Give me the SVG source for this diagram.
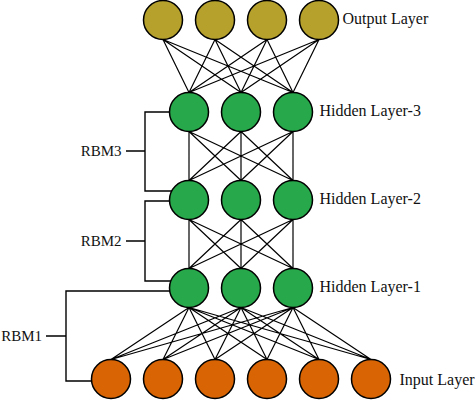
<svg xmlns="http://www.w3.org/2000/svg" width="475" height="402" viewBox="0 0 475 402">
<style>
.c{stroke:#000;stroke-width:1.2;fill:none}
.b{stroke:#000;stroke-width:1.4;fill:none}
.out{fill:#B5A12B;stroke:#000;stroke-width:1.5}
.hid{fill:#27A84A;stroke:#000;stroke-width:1.5}
.inp{fill:#D86404;stroke:#000;stroke-width:1.5}
text{font-family:"Liberation Serif","Times New Roman",serif;fill:#111}
.lab{font-size:16px}
.rbm{font-size:15px;text-anchor:end}
</style>
<rect width="475" height="402" fill="#fff"/>
<g id="connectors">
<path class="c" d="M163,39.5L189,92.5M163,39.5L241,92.5M163,39.5L293,92.5M215,39.5L189,92.5M215,39.5L241,92.5M215,39.5L293,92.5M267,39.5L189,92.5M267,39.5L241,92.5M267,39.5L293,92.5M319,39.5L189,92.5M319,39.5L241,92.5M319,39.5L293,92.5"/>
<path class="c" d="M189,131.5L189,180.5M189,131.5L241,180.5M189,131.5L293,180.5M241,131.5L189,180.5M241,131.5L241,180.5M241,131.5L293,180.5M293,131.5L189,180.5M293,131.5L241,180.5M293,131.5L293,180.5"/>
<path class="c" d="M189,219.5L189,268.5M189,219.5L241,268.5M189,219.5L293,268.5M241,219.5L189,268.5M241,219.5L241,268.5M241,219.5L293,268.5M293,219.5L189,268.5M293,219.5L241,268.5M293,219.5L293,268.5"/>
<path class="c" d="M189,307.5L111,359.5M189,307.5L163,359.5M189,307.5L215,359.5M189,307.5L267,359.5M189,307.5L319,359.5M189,307.5L371,359.5M241,307.5L111,359.5M241,307.5L163,359.5M241,307.5L215,359.5M241,307.5L267,359.5M241,307.5L319,359.5M241,307.5L371,359.5M293,307.5L111,359.5M293,307.5L163,359.5M293,307.5L215,359.5M293,307.5L267,359.5M293,307.5L319,359.5M293,307.5L371,359.5"/>
<path class="b" d="M180,112H145V191H180M126,151H145"/>
<path class="b" d="M180,201H145V281H180M126,241H145"/>
<path class="b" d="M180,291H66V381H100M46,336H66"/>
</g>
<g id="output-layer">
<circle class="out" cx="163" cy="20" r="19.5"/>
<circle class="out" cx="215" cy="20" r="19.5"/>
<circle class="out" cx="267" cy="20" r="19.5"/>
<circle class="out" cx="319" cy="20" r="19.5"/>
<text class="lab" x="342.5" y="24">Output Layer</text>
</g>
<g id="hidden-layer-3">
<circle class="hid" cx="189" cy="112" r="19.5"/>
<circle class="hid" cx="241" cy="112" r="19.5"/>
<circle class="hid" cx="293" cy="112" r="19.5"/>
<text class="lab" x="319.5" y="116">Hidden Layer-3</text>
</g>
<g id="hidden-layer-2">
<circle class="hid" cx="189" cy="200" r="19.5"/>
<circle class="hid" cx="241" cy="200" r="19.5"/>
<circle class="hid" cx="293" cy="200" r="19.5"/>
<text class="lab" x="319.5" y="204">Hidden Layer-2</text>
</g>
<g id="hidden-layer-1">
<circle class="hid" cx="189" cy="288" r="19.5"/>
<circle class="hid" cx="241" cy="288" r="19.5"/>
<circle class="hid" cx="293" cy="288" r="19.5"/>
<text class="lab" x="319.5" y="292">Hidden Layer-1</text>
</g>
<g id="input-layer">
<circle class="inp" cx="111" cy="379" r="19.5"/>
<circle class="inp" cx="163" cy="379" r="19.5"/>
<circle class="inp" cx="215" cy="379" r="19.5"/>
<circle class="inp" cx="267" cy="379" r="19.5"/>
<circle class="inp" cx="319" cy="379" r="19.5"/>
<circle class="inp" cx="371" cy="379" r="19.5"/>
<text class="lab" x="399.5" y="384.5">Input Layer</text>
</g>
<g id="rbm3"><text class="rbm" x="121.5" y="156">RBM3</text></g>
<g id="rbm2"><text class="rbm" x="121.5" y="246">RBM2</text></g>
<g id="rbm1"><text class="rbm" x="42" y="341">RBM1</text></g>
</svg>
